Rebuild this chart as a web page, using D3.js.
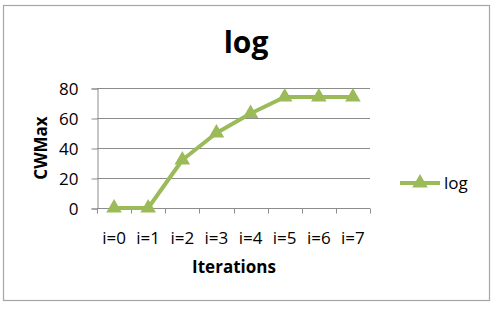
<!DOCTYPE html>
<html>
<head>
<meta charset="utf-8">
<script src="https://cdn.jsdelivr.net/npm/d3@7"></script>
<style>
  body { margin: 0; background: #fff; }
  svg text { font-family: "Open Sans", sans-serif; fill: #000; }
</style>
</head>
<body>
<svg id="chart" width="496" height="314"></svg>
<script>
// chart data
var categories = ["i=0", "i=1", "i=2", "i=3", "i=4", "i=5", "i=6", "i=7"];
var values = [0, 0, 32, 50, 63, 74, 74, 74];
var yTicks = [0, 20, 40, 60, 80];
var seriesName = "log";

var svg = d3.select("#chart");
var green = "#9bbb59";

// outer frame
svg.append("rect")
  .attr("x", 3.5).attr("y", 5.5)
  .attr("width", 486).attr("height", 295)
  .attr("fill", "#fff")
  .attr("stroke", "#a6a6a6")
  .attr("stroke-width", 1.2);

var plotL = 97, plotR = 370, plotT = 88, plotB = 208;

var x = d3.scaleBand().domain(categories).range([plotL, plotR]);
var y = d3.scaleLinear().domain([0, 80]).range([plotB, plotT]);

// title
svg.append("text")
  .attr("x", 246).attr("y", 53)
  .attr("text-anchor", "middle")
  .style("font-size", "30px")
  .style("font-weight", "bold")
  .text("log");

// gridlines
svg.append("g")
  .selectAll("line")
  .data(yTicks.filter(function(d) { return d > 0; }))
  .enter().append("line")
  .attr("x1", plotL).attr("x2", plotR)
  .attr("y1", function(d) { return y(d) + 0.5; })
  .attr("y2", function(d) { return y(d) + 0.5; })
  .attr("stroke", "#8c8c8c")
  .attr("stroke-width", 1);

// y axis
var yAxis = svg.append("g")
  .attr("transform", "translate(" + (plotL + 0.5) + ",0.5)")
  .call(d3.axisLeft(y).tickValues(yTicks).tickSize(6).tickPadding(13));
yAxis.select(".domain").attr("stroke", "#8c8c8c");
yAxis.selectAll(".tick line").attr("stroke", "#8c8c8c");
yAxis.selectAll(".tick text")
  .style("font-size", "17px")
  .attr("dy", "0.36em");

// x axis
var xAxis = svg.append("g")
  .attr("transform", "translate(0," + (plotB + 0.5) + ")")
  .call(d3.axisBottom(x).tickSize(0).tickPadding(23));
xAxis.select(".domain").attr("stroke", "#8c8c8c").attr("d", "M" + plotL + ",0H" + plotR);
xAxis.selectAll(".tick text").style("font-size", "17px");
// band boundary ticks
xAxis.selectAll(".bound")
  .data(d3.range(categories.length + 1))
  .enter().append("line")
  .attr("class", "bound")
  .attr("x1", function(i) { return Math.round(plotL + i * x.step()) + 0.5; })
  .attr("x2", function(i) { return Math.round(plotL + i * x.step()) + 0.5; })
  .attr("y1", 0).attr("y2", 5)
  .attr("stroke", "#8c8c8c");

// axis titles
svg.append("text")
  .attr("transform", "translate(47,148) rotate(-90)")
  .attr("text-anchor", "middle")
  .style("font-size", "17px")
  .style("font-weight", "bold")
  .text("CWMax");

svg.append("text")
  .attr("x", 234).attr("y", 273)
  .attr("text-anchor", "middle")
  .style("font-size", "17px")
  .style("font-weight", "bold")
  .text("Iterations");

// series
var line = d3.line()
  .x(function(d, i) { return x(categories[i]) + x.bandwidth() / 2; })
  .y(function(d) { return y(d); });

svg.append("path")
  .datum(values)
  .attr("d", line)
  .attr("fill", "none")
  .attr("stroke", green)
  .attr("stroke-width", 4)
  .attr("stroke-linejoin", "round");

var tri = d3.symbol().type(d3.symbolTriangle).size(105);

svg.append("g")
  .selectAll("path")
  .data(values)
  .enter().append("path")
  .attr("d", tri)
  .attr("transform", function(d, i) {
    return "translate(" + (x(categories[i]) + x.bandwidth() / 2) + "," + y(d) + ")";
  })
  .attr("fill", green);

// legend
svg.append("line")
  .attr("x1", 400).attr("x2", 440)
  .attr("y1", 183).attr("y2", 183)
  .attr("stroke", green).attr("stroke-width", 4);
svg.append("path")
  .attr("d", tri)
  .attr("transform", "translate(420,183)")
  .attr("fill", green);
svg.append("text")
  .attr("x", 444).attr("y", 189)
  .style("font-size", "17px")
  .text(seriesName);
</script>
</body>
</html>
